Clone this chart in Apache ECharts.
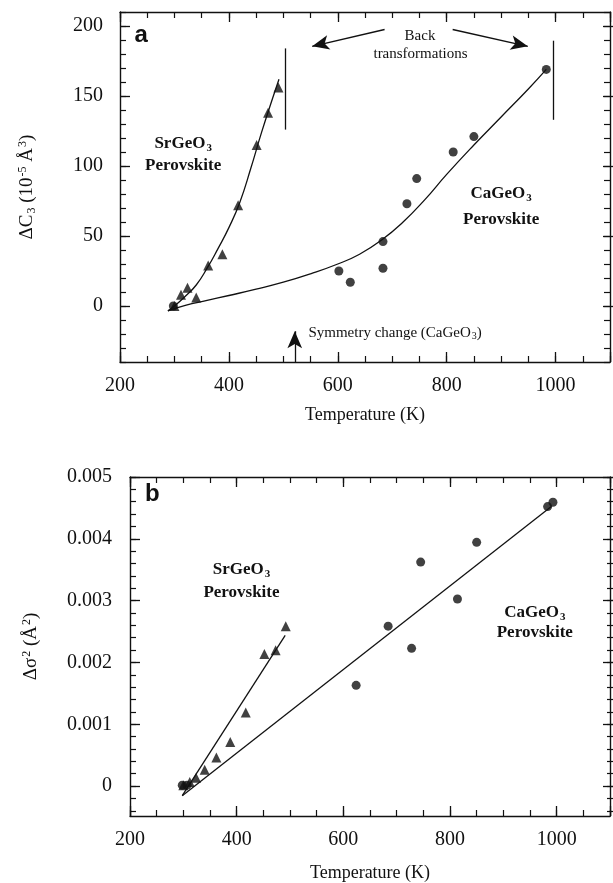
<!DOCTYPE html>
<html>
<head>
<meta charset="utf-8">
<script src="https://cdn.jsdelivr.net/npm/echarts@6/dist/echarts.min.js"></script>
<style>
  html, body { margin: 0; padding: 0; background: #fff; }
  #chart { width: 613px; height: 883px; }
</style>
</head>
<body>
<div id="chart"></div>
<script>
// panel a: third-order cumulant C3 vs temperature
var srTempA = [300, 312, 324, 340, 362, 388, 417, 451, 472, 491];
var srC3 = [0, 8, 13, 6, 29, 37, 72, 115, 138, 156];
var caTempA = [298, 602, 623, 683, 683, 727, 745, 812, 850, 983];
var caC3 = [0, 25, 17, 46, 27, 73, 91, 110, 121, 169];

// fitted curves
var srFitTempA = [288, 300, 320, 340, 360, 380, 400, 420, 440, 460, 480, 492];
var srFitC3 = [-3.5, 0, 7, 15, 27, 41, 56, 74, 98, 124, 148, 162];
var caFitTempA = [288, 320, 360, 400, 450, 500, 550, 600, 640, 680, 720, 760, 800, 850, 900, 950, 983];
var caFitC3 = [-3.5, 0.5, 4, 7.5, 12, 17, 23, 30, 37, 47, 60, 76, 94, 115, 135, 155, 169];

// panel b: Debye-Waller factor change
var srTempB = [300, 312, 324, 340, 362, 388, 417, 452, 473, 492];
var srS2 = [0, 0.00005, 0.00012, 0.00025, 0.00045, 0.0007, 0.00118, 0.00213, 0.00219, 0.00258];
var caTempB = [298, 307, 624, 684, 728, 745, 814, 850, 983, 993];
var caS2 = [0, 0, 0.00162, 0.00258, 0.00222, 0.00362, 0.00302, 0.00394, 0.00452, 0.00459];

var srFitTempB = [298, 491];
var srFitS2 = [-0.00017, 0.00243];
var caFitTempB = [298, 990];
var caFitS2 = [-0.00017, 0.00452];

var serif = 'Liberation Serif';
var ink = '#111';

function pairs(xs, ys) {
  return xs.map(function (x, i) { return [x, ys[i]]; });
}

var nameRich = {
  n: { fontFamily: serif, fontSize: 19, color: ink },
  sb: { fontFamily: serif, fontSize: 12, color: ink, padding: [9, 0, 0, 1] },
  sp: { fontFamily: serif, fontSize: 12, color: ink, padding: [0, 0, 9, 1] }
};
var boldRich = {
  t: { fontFamily: serif, fontSize: 17, fontWeight: 'bold', color: ink },
  s: { fontFamily: serif, fontSize: 11, fontWeight: 'bold', color: ink, padding: [9, 0, 0, 1] }
};
var plainRich = {
  t: { fontFamily: serif, fontSize: 15, color: ink },
  s: { fontFamily: serif, fontSize: 10, color: ink, padding: [8, 0, 0, 1] }
};

var tickStyle = { inside: true, length: 6, lineStyle: { color: ink, width: 1.2 } };
var majorTickStyle = { inside: true, length: 10, lineStyle: { color: ink, width: 1.3 } };
var axisLineStyle = { onZero: false, lineStyle: { color: ink, width: 1.4 } };

function xAx(grid, pos, withLabels) {
  return {
    type: 'value', gridIndex: grid, position: pos,
    min: 200, max: 1100, interval: 50,
    axisLine: axisLineStyle,
    axisTick: tickStyle,
    splitLine: { show: false },
    axisLabel: {
      show: withLabels, margin: 14, fontFamily: serif, fontSize: 20, color: ink,
      formatter: function (v) { return (v - 200) % 200 === 0 && v <= 1000 ? String(v) : ''; }
    },
    name: withLabels ? 'Temperature (K)' : '',
    nameLocation: 'middle', nameGap: grid === 0 ? 44 : 48,
    nameTextStyle: { fontFamily: serif, fontSize: 18, color: ink }
  };
}

// longer ticks at the labelled temperatures
function xMajor(grid, pos) {
  return {
    type: 'value', gridIndex: grid, position: pos,
    min: 200, max: 1100, interval: 200,
    axisLine: { show: false, onZero: false }, axisTick: majorTickStyle,
    axisLabel: { show: false }, splitLine: { show: false }
  };
}

function hiddenX(grid) {
  return { type: 'value', gridIndex: grid, min: 200, max: 1100, show: false };
}

function yAxA(pos, withLabels) {
  return {
    type: 'value', gridIndex: 0, position: pos,
    min: -40, max: 210, interval: 10,
    axisLine: axisLineStyle,
    axisTick: tickStyle,
    splitLine: { show: false },
    axisLabel: {
      show: withLabels, margin: 17, fontFamily: serif, fontSize: 20, color: ink,
      formatter: function (v) { return v % 50 === 0 ? String(v) : ''; }
    },
    name: withLabels ? '{n|ΔC}{sb|3}{n| (10}{sp|-5}{n| Å}{sp|3}{n|)}' : '',
    nameLocation: 'middle', nameRotate: 90, nameGap: 82,
    nameTextStyle: { rich: nameRich }
  };
}

// panel b frame: carries the data, draws the axis line only
function yAxB(pos, withName) {
  return {
    type: 'value', gridIndex: 1, position: pos,
    min: -0.0005, max: 0.005,
    axisLine: axisLineStyle,
    axisTick: { show: false },
    axisLabel: { show: false },
    splitLine: { show: false },
    name: withName ? '{n|Δσ}{sp|2}{n| (Å}{sp|2}{n|)}' : '',
    nameLocation: 'middle', nameRotate: 90, nameGap: 88,
    nameTextStyle: { rich: nameRich }
  };
}

// panel b ticks: same scale, ticks counted from -0.0004
function yTickB(pos, withLabels) {
  return {
    type: 'value', gridIndex: 2, position: pos,
    min: -0.0004, max: 0.005, interval: 0.0002,
    axisLine: { show: false, onZero: false },
    axisTick: tickStyle,
    splitLine: { show: false },
    axisLabel: {
      show: withLabels, margin: 18, fontFamily: serif, fontSize: 20, color: ink,
      formatter: function (v) {
        var k = v * 1000;
        if (Math.abs(k - Math.round(k)) > 1e-6) return '';
        return Math.round(k) === 0 ? '0' : (Math.round(k) / 1000).toFixed(3);
      }
    }
  };
}

function yMajor(grid, pos, lo, hi, step) {
  return {
    type: 'value', gridIndex: grid, position: pos,
    min: lo, max: hi, interval: step,
    axisLine: { show: false, onZero: false }, axisTick: majorTickStyle,
    axisLabel: { show: false }, splitLine: { show: false }
  };
}

function note(coord, text, rich) {
  return {
    coord: coord, value: 0, symbol: 'circle', symbolSize: 0,
    label: { show: true, position: 'inside', formatter: text, rich: rich }
  };
}

function seg(a, b, head) {
  return [
    { coord: a, symbol: 'none' },
    { coord: b, symbol: head ? 'arrow' : 'none', symbolSize: head ? [11, 17] : 0 }
  ];
}

var lineStyle = { color: ink, width: 1.3 };

var option = {
  animation: false,
  backgroundColor: '#fff',
  grid: [
    { left: 120, top: 12, width: 493, height: 350 },
    { left: 130, top: 477, width: 486, height: 340 },
    { left: 130, top: 477, width: 486, height: 333.8 },
    { left: 120, top: 26, width: 493, height: 280 },
    { left: 130, top: 477, width: 486, height: 309.1 }
  ],
  xAxis: [
    xAx(0, 'bottom', true), xAx(0, 'top', false),
    xAx(1, 'bottom', true), xAx(1, 'top', false),
    hiddenX(2), hiddenX(3), hiddenX(4),
    xMajor(0, 'bottom'), xMajor(0, 'top'),
    xMajor(1, 'bottom'), xMajor(1, 'top')
  ],
  yAxis: [
    yAxA('left', true), yAxA('right', false),
    yAxB('left', true), yAxB('right', false),
    yTickB('left', true), yTickB('right', false),
    yMajor(3, 'left', 0, 200, 50), yMajor(3, 'right', 0, 200, 50),
    yMajor(4, 'left', 0, 0.005, 0.001), yMajor(4, 'right', 0, 0.005, 0.001)
  ],
  series: [
    {
      type: 'line', xAxisIndex: 0, yAxisIndex: 0, smooth: true, showSymbol: false,
      data: pairs(srFitTempA, srFitC3), lineStyle: lineStyle, silent: true,
      markPoint: {
        silent: true,
        data: [
          { coord: [239, 193], value: 0, symbol: 'circle', symbolSize: 0,
            label: { show: true, position: 'inside', formatter: 'a',
              fontFamily: 'Liberation Sans', fontWeight: 'bold', fontSize: 24, color: ink } },
          note([316, 116], '{t|SrGeO}{s|3}', boldRich),
          note([316, 100], '{t|Perovskite}', boldRich),
          note([900, 80], '{t|CaGeO}{s|3}', boldRich),
          note([900, 62], '{t|Perovskite}', boldRich),
          note([751, 193], '{t|Back}', plainRich),
          note([752, 180], '{t|transformations}', plainRich),
          { coord: [546, -19], value: 0, symbol: 'circle', symbolSize: 0,
            label: { show: true, position: 'right', distance: 0, formatter: '{t|Symmetry change (CaGeO}{s|3}{t|)}', rich: plainRich } }
        ]
      },
      markLine: {
        silent: true, animation: false,
        label: { show: false },
        lineStyle: { color: ink, width: 1.3, type: 'solid' },
        data: [
          seg([686, 197.5], [553, 185.5], true),
          seg([811, 197.5], [949, 185.5], true),
          seg([503, 184], [503, 126], false),
          seg([996.5, 189.5], [996.5, 133], false),
          seg([521, -40], [521, -18], true)
        ]
      }
    },
    {
      type: 'line', xAxisIndex: 0, yAxisIndex: 0, smooth: true, showSymbol: false,
      data: pairs(caFitTempA, caFitC3), lineStyle: lineStyle, silent: true
    },
    {
      type: 'scatter', xAxisIndex: 0, yAxisIndex: 0, symbol: 'triangle', symbolSize: 10,
      itemStyle: { color: ink }, data: pairs(srTempA, srC3)
    },
    {
      type: 'scatter', xAxisIndex: 0, yAxisIndex: 0, symbol: 'circle', symbolSize: 9,
      itemStyle: { color: ink }, data: pairs(caTempA, caC3)
    },
    {
      type: 'line', xAxisIndex: 2, yAxisIndex: 2, showSymbol: false,
      data: pairs(srFitTempB, srFitS2), lineStyle: lineStyle, silent: true,
      markPoint: {
        silent: true,
        data: [
          { coord: [242, 0.00471], value: 0, symbol: 'circle', symbolSize: 0,
            label: { show: true, position: 'inside', formatter: 'b',
              fontFamily: 'Liberation Sans', fontWeight: 'bold', fontSize: 24, color: ink } },
          note([409, 0.0035], '{t|SrGeO}{s|3}', boldRich),
          note([409, 0.00312], '{t|Perovskite}', boldRich),
          note([959, 0.0028], '{t|CaGeO}{s|3}', boldRich),
          note([959, 0.00248], '{t|Perovskite}', boldRich)
        ]
      }
    },
    {
      type: 'line', xAxisIndex: 2, yAxisIndex: 2, showSymbol: false,
      data: pairs(caFitTempB, caFitS2), lineStyle: lineStyle, silent: true
    },
    {
      type: 'scatter', xAxisIndex: 2, yAxisIndex: 2, symbol: 'triangle', symbolSize: 10,
      itemStyle: { color: ink }, data: pairs(srTempB, srS2)
    },
    {
      type: 'scatter', xAxisIndex: 2, yAxisIndex: 2, symbol: 'circle', symbolSize: 9,
      itemStyle: { color: ink }, data: pairs(caTempB, caS2)
    }
  ]
};

var myChart = echarts.init(document.getElementById('chart'));
myChart.setOption(option);
window.addEventListener('resize', function () {
  myChart.resize();
});
</script>
</body>
</html>
